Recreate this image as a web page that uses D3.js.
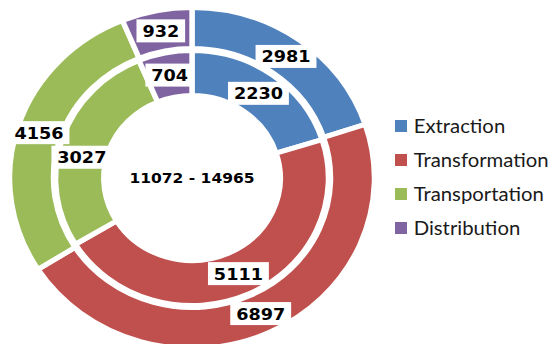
<!DOCTYPE html>
<html>
<head>
<meta charset="utf-8">
<script src="https://cdn.jsdelivr.net/npm/d3@7"></script>
<style>
  html, body { margin: 0; padding: 0; background: #fff; }
  svg { display: block; }
</style>
</head>
<body>
<svg id="chart" width="552" height="344"></svg>
<script>
// Energy chain: two years shown as nested doughnut rings
const categories = ["Extraction", "Transformation", "Transportation", "Distribution"];
const innerValues = [2230, 5111, 3027, 704];
const outerValues = [2981, 6897, 4156, 932];
const centerLabel = "11072 - 14965";
const colors = ["#4F81BD", "#C0504D", "#9BBB59", "#8064A2"];

const svg = d3.select("#chart");
const stretchX = 1.07;   // plot is drawn slightly wider than tall
const cx = 192, cy = 178;

const color = d3.scaleOrdinal().domain(categories).range(colors);

const pie = d3.pie().sort(null).value(d => d.value)
  .startAngle(0).endAngle(2 * Math.PI);

// outer ring first so its labels are placed before the inner ones
const rings = [
  { values: outerValues, inner: 132, outer: 168 },
  { values: innerValues, inner: 85, outer: 125 }
];

const border = 5;
const plot = svg.append("g")
  .attr("transform", `translate(${cx},${cy}) scale(${stretchX},1)`);

rings.forEach(ring => {
  const data = pie(categories.map((c, i) => ({ cat: c, value: ring.values[i] })));
  const arc = d3.arc()
    .innerRadius(ring.inner - border / 2)
    .outerRadius(ring.outer + border / 2);
  plot.append("g").selectAll("path")
    .data(data)
    .join("path")
    .attr("d", arc)
    .attr("fill", d => color(d.data.cat))
    .attr("stroke", "#fff")
    .attr("stroke-width", border)
    .attr("stroke-linejoin", "miter");
  ring.data = data;
});

// value labels on white boxes at the ring midline; a label that would
// collide with one already placed slides along its ring (whichever way
// is shorter, counter-clockwise on a tie) until it is clear
const placed = [];
const boxH = 23, padX = 5.5, gap = 6;
const overlaps = (a, b) =>
  a.x0 < b.x1 + gap && b.x0 < a.x1 + gap && a.y0 < b.y1 + 1 && b.y0 < a.y1 + 1;
const step = Math.PI / 360;

const labelLayer = plot.append("g");
rings.forEach(ring => {
  const mid = (ring.inner + ring.outer) / 2;
  ring.data.forEach(d => {
    const g = labelLayer.append("g");
    const t = g.append("text")
      .attr("text-anchor", "middle")
      .attr("dy", "0.36em")
      .attr("font-family", "'DejaVu Sans', Verdana, sans-serif")
      .attr("font-weight", "bold")
      .attr("font-size", 16.5)
      .attr("fill", "#000")
      .text(d.data.value);
    const w = t.node().getComputedTextLength() + 2 * padX;
    const boxAt = a => {
      const x = mid * Math.sin(a), y = -mid * Math.cos(a);
      return { x, y, x0: x - w / 2, x1: x + w / 2, y0: y - boxH / 2, y1: y + boxH / 2 };
    };
    const clear = b => !placed.some(p => overlaps(b, p));
    const a0 = (d.startAngle + d.endAngle) / 2;
    let box = boxAt(a0);
    if (!clear(box)) {
      for (let k = 1; k < 180; k++) {
        const ccw = boxAt(a0 - k * step);
        if (clear(ccw)) { box = ccw; break; }
        const cw = boxAt(a0 + k * step);
        if (clear(cw)) { box = cw; break; }
      }
    }
    placed.push(box);
    g.attr("transform", `translate(${box.x},${box.y})`);
    g.insert("rect", "text")
      .attr("x", -w / 2)
      .attr("y", -boxH / 2)
      .attr("width", w)
      .attr("height", boxH)
      .attr("fill", "#fff");
  });
});

plot.append("text")
  .attr("text-anchor", "middle")
  .attr("y", 0)
  .attr("dy", "0.36em")
  .attr("font-family", "'DejaVu Sans', Verdana, sans-serif")
  .attr("font-weight", "bold")
  .attr("font-size", 14.5)
  .attr("fill", "#000")
  .text(centerLabel);

// legend
const legendY = d3.scalePoint().domain(categories).range([126, 228]);
const legend = svg.append("g")
  .attr("transform", `scale(${stretchX},1)`);
const item = legend.selectAll("g")
  .data(categories)
  .join("g")
  .attr("transform", d => `translate(${395 / stretchX},${legendY(d)})`);
item.append("rect")
  .attr("x", 0).attr("y", -6)
  .attr("width", 11.2).attr("height", 12)
  .attr("fill", d => color(d));
item.append("text")
  .attr("x", 17.5)
  .attr("dy", "0.36em")
  .attr("font-family", "Lato, 'Noto Sans', sans-serif")
  .attr("font-size", 19)
  .attr("fill", "#1a1a1a")
  .text(d => d);
</script>
</body>
</html>
